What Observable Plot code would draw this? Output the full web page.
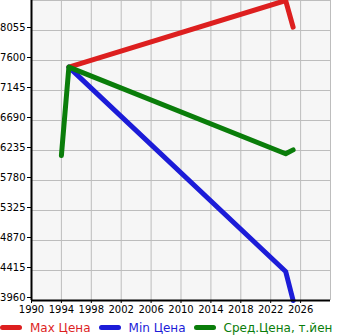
<!DOCTYPE html>
<html><head><meta charset="utf-8">
<script src="https://cdn.jsdelivr.net/npm/d3@7"></script>
<script src="https://cdn.jsdelivr.net/npm/@observablehq/plot@0.6"></script>
<style>
body{margin:0;background:#fff;font-family:"DejaVu Sans",sans-serif;}
#chart svg{display:block;}
#legend{display:flex;align-items:center;height:17px;margin-top:1px;font-size:12px;white-space:nowrap;overflow:hidden;width:345px;}
.item{display:flex;align-items:center;margin-right:8px;}
.sw{width:22px;height:5px;border-radius:3px;margin-right:8px;}
</style></head>
<body><div id="chart"></div><div id="legend"></div>
<script>
const years = [1994, 1995, 2024, 2025];
const maxPrice = [null, 7500, 8510, 8105];
const minPrice = [null, 7500, 4400, 3960];
const avgPrice = [6160, 7500, 6185, 6245];
const xTicks = [1990, 1994, 1998, 2002, 2006, 2010, 2014, 2018, 2022, 2026];
const yTicks = [3960, 4415, 4870, 5325, 5780, 6235, 6690, 7145, 7600, 8055];
const seriesNames = ["Max Цена", "Min Цена", "Сред.Цена, т.йен"];
const colors = ["#dd1f1f", "#1c1cd8", "#0a7d0a"];

const series = [maxPrice, minPrice, avgPrice];
const rows = series.map(vals => years.map((yr, i) => ({year: yr, v: vals[i]})).filter(d => d.v != null));
const gridX = d3.range(1990, 2031, 4);
const gridY = yTicks.concat([8510]);

const chart = Plot.plot({
  width: 345, height: 318,
  marginTop: 0, marginLeft: 31, marginRight: 15, marginBottom: 18,
  style: {background: "white", fontFamily: "DejaVu Sans", fontSize: "10px", color: "black"},
  x: {domain: [1990, 2030], label: null},
  y: {domain: [3960, 8510], label: null},
  marks: [
    Plot.frame({fill: "#f6f6f6", stroke: null}),
    Plot.ruleX(gridX, {stroke: "#bdbdbd", strokeWidth: 1}),
    Plot.ruleY(gridY, {stroke: "#bdbdbd", strokeWidth: 1}),
    ...rows.map((r, i) => Plot.line(r, {x: "year", y: "v", stroke: colors[i], strokeWidth: 5, strokeLinecap: "round", strokeLinejoin: "round"})),
    Plot.ruleX([1990], {stroke: "black", strokeWidth: 2}),
    Plot.ruleY([3960], {stroke: "black", strokeWidth: 2}),
    Plot.axisX({ticks: xTicks, tickFormat: d => String(d), tickSize: 3, tickPadding: 2, label: null}),
    Plot.axisY({ticks: yTicks, tickFormat: d => String(d), tickSize: 4, tickPadding: 2, dy: -3, label: null})
  ]
});
document.getElementById("chart").appendChild(chart);

const legend = document.getElementById("legend");
seriesNames.forEach((n, i) => {
  const it = document.createElement("div");
  it.className = "item";
  it.innerHTML = `<div class="sw" style="background:${colors[i]}"></div><span style="color:${colors[i]}">${n}</span>`;
  legend.appendChild(it);
});
</script></body></html>
